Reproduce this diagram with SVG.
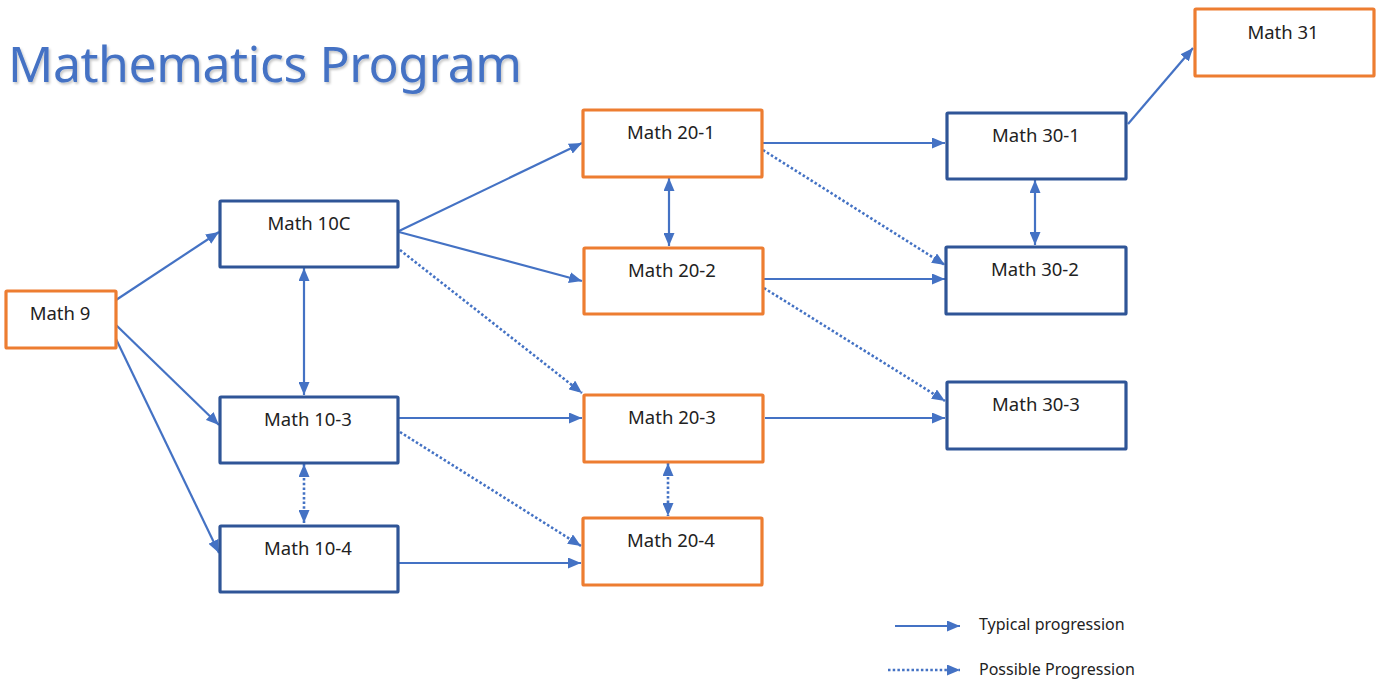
<svg xmlns="http://www.w3.org/2000/svg" width="1378" height="682" viewBox="0 0 1378 682">
<defs>
<style>
.box{fill:#ffffff;stroke-width:3.2}
.o{stroke:#ED7D31}
.b{stroke:#2F5597}
.lbl{font-family:"Noto Sans","Open Sans","DejaVu Sans",sans-serif;font-size:18.5px;fill:#222222;text-anchor:middle}
.leg{font-family:"Noto Sans","Open Sans","DejaVu Sans",sans-serif;font-size:16px;fill:#222222}
.c{fill:none;stroke:#4472C4;stroke-width:2.2;marker-end:url(#ah)}
.d{stroke-width:2.6;stroke-dasharray:2.5 2.2}
.bi{marker-start:url(#ah)}
.title{font-family:"Noto Sans","Open Sans","DejaVu Sans",sans-serif;font-size:50px;fill:#4472C4}
</style>
<marker id="ah" viewBox="0 0 13 11" refX="13" refY="5.5" markerWidth="13" markerHeight="11" markerUnits="userSpaceOnUse" orient="auto-start-reverse">
<path d="M0,0 L13,5.5 L0,11 z" fill="#4472C4"/>
</marker>
<filter id="sh" x="-5%" y="-20%" width="110%" height="140%">
<feDropShadow dx="1.5" dy="2" stdDeviation="1.2" flood-color="#000000" flood-opacity="0.22"/>
</filter>
</defs>
<rect width="1378" height="682" fill="#ffffff"/>
<text class="title" x="8" y="82" textLength="514" filter="url(#sh)">Mathematics Program</text>

<g id="connectors">
<line class="c" x1="116" y1="300" x2="219" y2="232"/>
<line class="c" x1="116" y1="325" x2="219" y2="425"/>
<line class="c" x1="116" y1="339" x2="219" y2="553"/>
<line class="c bi" x1="304" y1="268" x2="304" y2="395"/>
<line class="c bi d" x1="304" y1="464" x2="304" y2="523"/>
<line class="c" x1="399" y1="231" x2="582" y2="143"/>
<line class="c" x1="399" y1="232" x2="582" y2="281"/>
<line class="c d" x1="400" y1="250" x2="582" y2="393"/>
<line class="c" x1="399" y1="418" x2="582" y2="418"/>
<line class="c d" x1="400" y1="432" x2="581" y2="546"/>
<line class="c" x1="399" y1="563" x2="581" y2="563"/>
<line class="c bi" x1="669" y1="178" x2="669" y2="246"/>
<line class="c" x1="763" y1="143" x2="945" y2="143"/>
<line class="c d" x1="763" y1="150" x2="945" y2="265"/>
<line class="c" x1="764" y1="279" x2="945" y2="279"/>
<line class="c d" x1="764" y1="288" x2="945" y2="401"/>
<line class="c" x1="765" y1="418" x2="945" y2="418"/>
<line class="c bi d" x1="668" y1="463" x2="668" y2="516"/>
<line class="c bi" x1="1035" y1="180" x2="1035" y2="245"/>
<line class="c" x1="1128" y1="124" x2="1193" y2="48"/>
</g>

<g id="math9"><rect class="box o" x="6" y="291" width="110" height="57" rx="1"/><text class="lbl" x="60" y="320">Math 9</text></g>
<g id="math10c"><rect class="box b" x="220" y="201" width="178" height="66" rx="1"/><text class="lbl" x="309" y="230">Math 10C</text></g>
<g id="math10-3"><rect class="box b" x="220" y="397" width="178" height="66" rx="1"/><text class="lbl" x="308" y="426">Math 10-3</text></g>
<g id="math10-4"><rect class="box b" x="220" y="526" width="178" height="66" rx="1"/><text class="lbl" x="308" y="555">Math 10-4</text></g>
<g id="math20-1"><rect class="box o" x="583" y="110" width="179" height="67" rx="1"/><text class="lbl" x="671" y="139">Math 20-1</text></g>
<g id="math20-2"><rect class="box o" x="584" y="248" width="179" height="66" rx="1"/><text class="lbl" x="672" y="277">Math 20-2</text></g>
<g id="math20-3"><rect class="box o" x="584" y="395" width="179" height="67" rx="1"/><text class="lbl" x="672" y="424">Math 20-3</text></g>
<g id="math20-4"><rect class="box o" x="583" y="518" width="179" height="67" rx="1"/><text class="lbl" x="671" y="547">Math 20-4</text></g>
<g id="math30-1"><rect class="box b" x="947" y="113" width="179" height="66" rx="1"/><text class="lbl" x="1036" y="142">Math 30-1</text></g>
<g id="math30-2"><rect class="box b" x="946" y="247" width="180" height="67" rx="1"/><text class="lbl" x="1035" y="276">Math 30-2</text></g>
<g id="math30-3"><rect class="box b" x="947" y="382" width="179" height="67" rx="1"/><text class="lbl" x="1036" y="411">Math 30-3</text></g>
<g id="math31"><rect class="box o" x="1195" y="9" width="179" height="67" rx="1"/><text class="lbl" x="1283" y="39">Math 31</text></g>

<g id="legend">
<line class="c" x1="895" y1="626" x2="960" y2="626"/>
<text class="leg" x="979" y="630">Typical progression</text>
<line class="c d" x1="888" y1="670" x2="960" y2="670"/>
<text class="leg" x="979" y="675">Possible Progression</text>
</g>
</svg>
